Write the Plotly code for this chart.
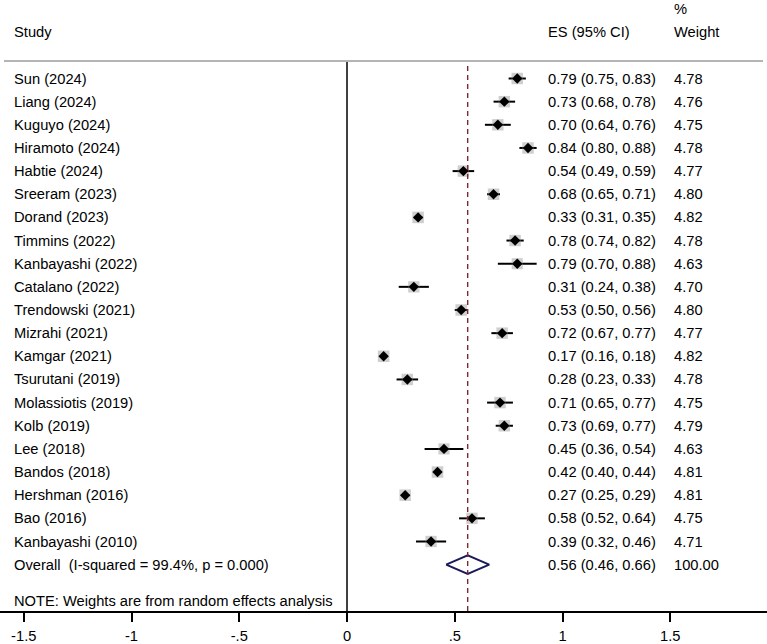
import plotly.graph_objects as go

studies = ["Sun (2024)", "Liang (2024)", "Kuguyo (2024)", "Hiramoto (2024)", "Habtie (2024)",
           "Sreeram (2023)", "Dorand (2023)", "Timmins (2022)", "Kanbayashi (2022)", "Catalano (2022)",
           "Trendowski (2021)", "Mizrahi (2021)", "Kamgar (2021)", "Tsurutani (2019)", "Molassiotis (2019)",
           "Kolb (2019)", "Lee (2018)", "Bandos (2018)", "Hershman (2016)", "Bao (2016)", "Kanbayashi (2010)"]
es = [0.79, 0.73, 0.70, 0.84, 0.54, 0.68, 0.33, 0.78, 0.79, 0.31, 0.53, 0.72, 0.17, 0.28, 0.71,
      0.73, 0.45, 0.42, 0.27, 0.58, 0.39]
lo = [0.75, 0.68, 0.64, 0.80, 0.49, 0.65, 0.31, 0.74, 0.70, 0.24, 0.50, 0.67, 0.16, 0.23, 0.65,
      0.69, 0.36, 0.40, 0.25, 0.52, 0.32]
hi = [0.83, 0.78, 0.76, 0.88, 0.59, 0.71, 0.35, 0.82, 0.88, 0.38, 0.56, 0.77, 0.18, 0.33, 0.77,
      0.77, 0.54, 0.44, 0.29, 0.64, 0.46]
weights = [4.78, 4.76, 4.75, 4.78, 4.77, 4.80, 4.82, 4.78, 4.63, 4.70, 4.80, 4.77, 4.82, 4.78, 4.75,
           4.79, 4.63, 4.81, 4.81, 4.75, 4.71]
overall_label = "Overall  (I-squared = 99.4%, p = 0.000)"
overall_es, overall_lo, overall_hi, overall_w = 0.56, 0.46, 0.66, 100.00
tick_vals = [-1.5, -1, -0.5, 0, 0.5, 1, 1.5]
tick_text = ["-1.5", "-1", "-.5", "0", ".5", "1", "1.5"]
note = "NOTE: Weights are from random effects analysis"

W, H = 767, 644
x0_px, unit_px = 347, 215.5
row0_px, row_px = 78.5, 23.15
axis_px = 611
FONT = "Liberation Sans, Arial, sans-serif"
FS = 14.7

n = len(studies)
rows = list(range(n))
overall_row = n

fig = go.Figure()

# CI lines
ci_x, ci_y = [], []
for i in rows:
    ci_x += [lo[i], hi[i], None]
    ci_y += [i, i, None]
fig.add_trace(go.Scatter(x=ci_x, y=ci_y, mode="lines", line=dict(color="black", width=2),
                         hoverinfo="skip", showlegend=False))
# weight boxes
fig.add_trace(go.Scatter(x=es, y=rows, mode="markers",
                         marker=dict(symbol="square", size=[w * 2.4 for w in weights],
                                     color="rgba(140,140,140,0.6)", line=dict(width=0)),
                         showlegend=False))
# point estimates
fig.add_trace(go.Scatter(x=es, y=rows, mode="markers",
                         marker=dict(symbol="diamond", size=8, color="black", line=dict(width=0)),
                         showlegend=False))
# overall diamond
fig.add_trace(go.Scatter(x=[overall_lo, overall_es, overall_hi, overall_es, overall_lo],
                         y=[overall_row, overall_row - 0.4, overall_row, overall_row + 0.4, overall_row],
                         mode="lines", line=dict(color="#1a1a5c", width=2), fill="toself",
                         fillcolor="white", showlegend=False))

def py_to_paper(py):
    return (axis_px - py) / axis_px

top_line = py_to_paper(61)
shapes = [
    dict(type="line", xref="x", yref="paper", x0=0, x1=0, y0=0, y1=top_line,
         line=dict(color="black", width=1.5)),
    dict(type="line", xref="x", yref="paper", x0=overall_es, x1=overall_es, y0=0, y1=top_line,
         line=dict(color="#7a2a2a", width=1.4, dash="5px,4px")),
    dict(type="line", xref="paper", yref="paper", x0=4 / W, x1=763 / W, y0=top_line, y1=top_line,
         line=dict(color="#b4b4b4", width=2)),
]

ann = []
def txt(x_px, y, s, yref="y"):
    ann.append(dict(x=x_px / W, xref="paper", y=y, yref=yref, text=s, showarrow=False,
                    xanchor="left", yanchor="middle", xshift=-2,
                    font=dict(family=FONT, size=FS, color="black")))

txt(14, py_to_paper(32), "Study", "paper")
txt(548, py_to_paper(32), "ES (95% CI)", "paper")
txt(674, py_to_paper(9), "%", "paper")
txt(674, py_to_paper(32), "Weight", "paper")
for i in rows:
    txt(14, i, studies[i])
    txt(548, i, f"{es[i]:.2f} ({lo[i]:.2f}, {hi[i]:.2f})")
    txt(674, i, f"{weights[i]:.2f}")
txt(14, overall_row, overall_label)
txt(548, overall_row, f"{overall_es:.2f} ({overall_lo:.2f}, {overall_hi:.2f})")
txt(674, overall_row, f"{overall_w:.2f}")
txt(14, py_to_paper(601), note, "paper")

fig.update_layout(
    width=W, height=H, margin=dict(l=0, r=0, t=0, b=H - axis_px),
    paper_bgcolor="white", plot_bgcolor="white",
    shapes=shapes, annotations=ann,
    xaxis=dict(range=[-x0_px / unit_px, (W - x0_px) / unit_px], tickvals=tick_vals, ticktext=tick_text,
               showgrid=False, zeroline=False, showline=True, linecolor="black", linewidth=1.5,
               ticks="outside", ticklen=9, tickwidth=1.5, tickcolor="black", ticklabelstandoff=2,
               tickfont=dict(family=FONT, size=FS, color="black"), fixedrange=True),
    yaxis=dict(range=[(axis_px - row0_px) / row_px, -row0_px / row_px], showgrid=False, zeroline=False,
               showticklabels=False, visible=False, fixedrange=True),
    showlegend=False,
)

fig.write_html("out.html")
